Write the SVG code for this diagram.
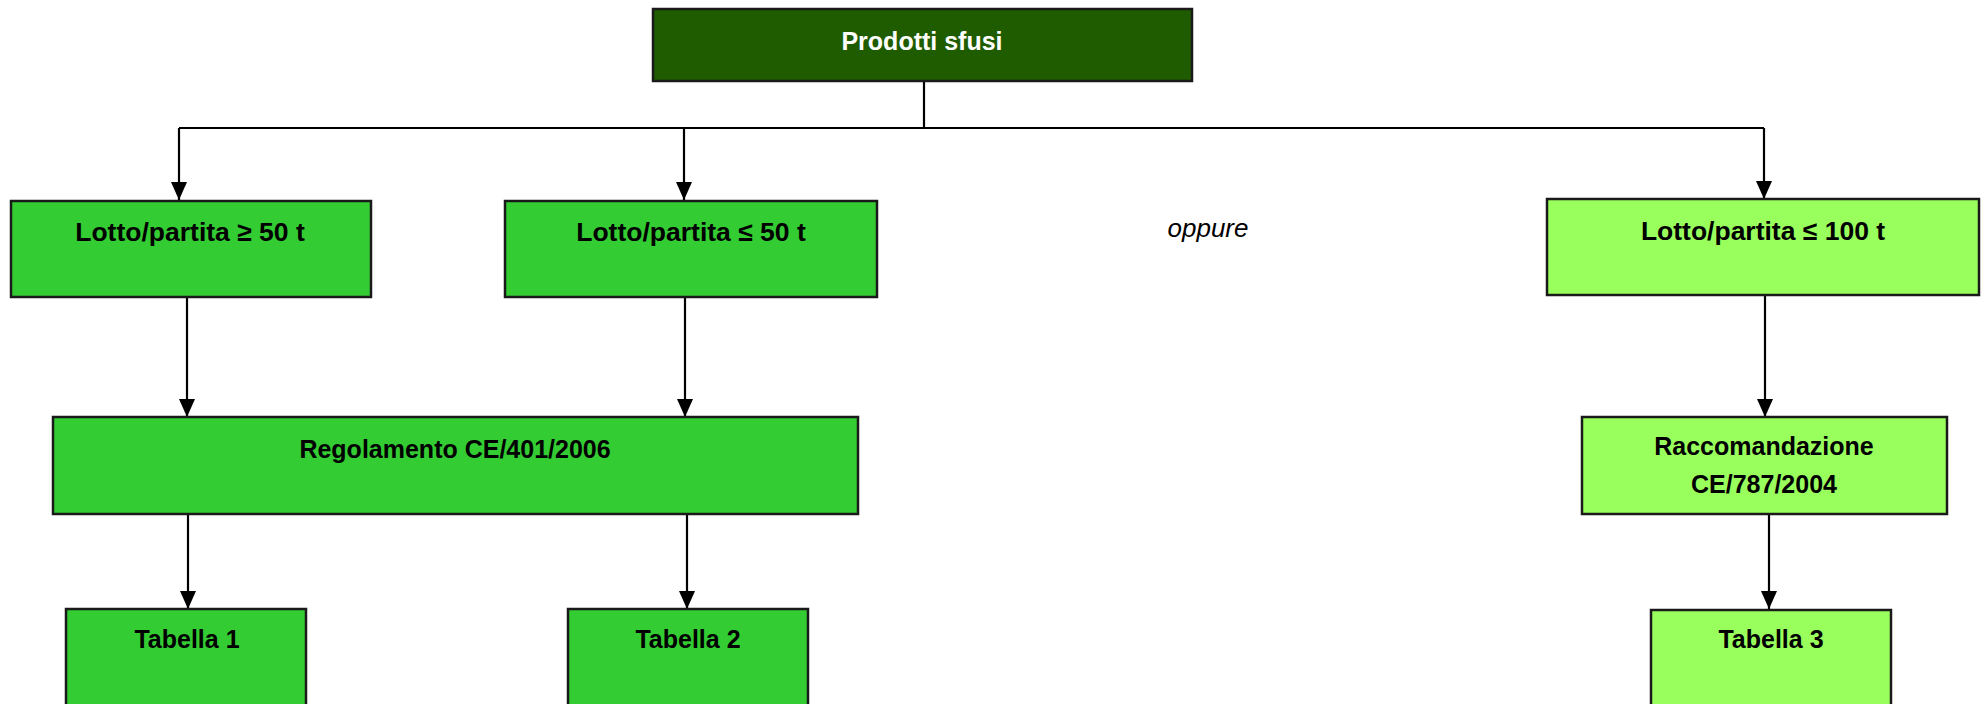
<svg xmlns="http://www.w3.org/2000/svg" width="1988" height="704" viewBox="0 0 1988 704">
  <defs>
    <marker id="arr" markerUnits="userSpaceOnUse" viewBox="0 0 18 16" refX="18" refY="8" markerWidth="18" markerHeight="16" orient="auto">
      <path d="M0,0 L18,8 L0,16 z" fill="#000"/>
    </marker>
    <style>
      .box { stroke: #1a1a1a; stroke-width: 2.5; }
      .dark { fill: #1F5C00; }
      .mid { fill: #33CC33; }
      .light { fill: #99FF5C; }
      .t { font-family: "Liberation Sans", Arial, sans-serif; font-size: 25px; font-weight: bold; text-anchor: middle; fill: #000; }
      .big { font-size: 26.5px; }
      .tw { fill: #fff; }
      .it { font-family: "Liberation Sans", Arial, sans-serif; font-size: 26px; font-style: italic; text-anchor: middle; fill: #000; }
      .c { fill: none; stroke: #000; stroke-width: 2.2; }
    </style>
  </defs>
  <rect width="1988" height="704" fill="#fff"/>

  <g id="connectors">
    <path class="c" d="M924,81 V128"/>
    <path class="c" d="M179,128 H1764"/>
    <path class="c" d="M179,128 V200" marker-end="url(#arr)"/>
    <path class="c" d="M684,128 V200" marker-end="url(#arr)"/>
    <path class="c" d="M1764,128 V199" marker-end="url(#arr)"/>
    <path class="c" d="M187,297 V417" marker-end="url(#arr)"/>
    <path class="c" d="M685,297 V417" marker-end="url(#arr)"/>
    <path class="c" d="M1765,295 V417" marker-end="url(#arr)"/>
    <path class="c" d="M188,514 V609" marker-end="url(#arr)"/>
    <path class="c" d="M687,514 V609" marker-end="url(#arr)"/>
    <path class="c" d="M1769,514 V609" marker-end="url(#arr)"/>
  </g>

  <g id="prodotti">
    <rect class="box dark" x="653" y="9" width="539" height="72"/>
    <text class="t tw" x="922" y="50">Prodotti sfusi</text>
  </g>

  <g id="lotto-ge50">
    <rect class="box mid" x="11" y="201" width="360" height="96"/>
    <text class="t big" x="190" y="241">Lotto/partita ≥ 50 t</text>
  </g>

  <g id="lotto-le50">
    <rect class="box mid" x="505" y="201" width="372" height="96"/>
    <text class="t big" x="691" y="241">Lotto/partita ≤ 50 t</text>
  </g>

  <g id="oppure">
    <text class="it" x="1208" y="237">oppure</text>
  </g>

  <g id="lotto-le100">
    <rect class="box light" x="1547" y="199" width="432" height="96"/>
    <text class="t big" x="1763" y="240">Lotto/partita ≤ 100 t</text>
  </g>

  <g id="regolamento">
    <rect class="box mid" x="53" y="417" width="805" height="97"/>
    <text class="t" x="455" y="458">Regolamento CE/401/2006</text>
  </g>

  <g id="raccomandazione">
    <rect class="box light" x="1582" y="417" width="365" height="97"/>
    <text class="t" x="1764" y="455">Raccomandazione</text>
    <text class="t" x="1764" y="493">CE/787/2004</text>
  </g>

  <g id="tabella1">
    <rect class="box mid" x="66" y="609" width="240" height="110"/>
    <text class="t" x="187" y="648">Tabella 1</text>
  </g>

  <g id="tabella2">
    <rect class="box mid" x="568" y="609" width="240" height="110"/>
    <text class="t" x="688" y="648">Tabella 2</text>
  </g>

  <g id="tabella3">
    <rect class="box light" x="1651" y="610" width="240" height="110"/>
    <text class="t" x="1771" y="648">Tabella 3</text>
  </g>
</svg>
